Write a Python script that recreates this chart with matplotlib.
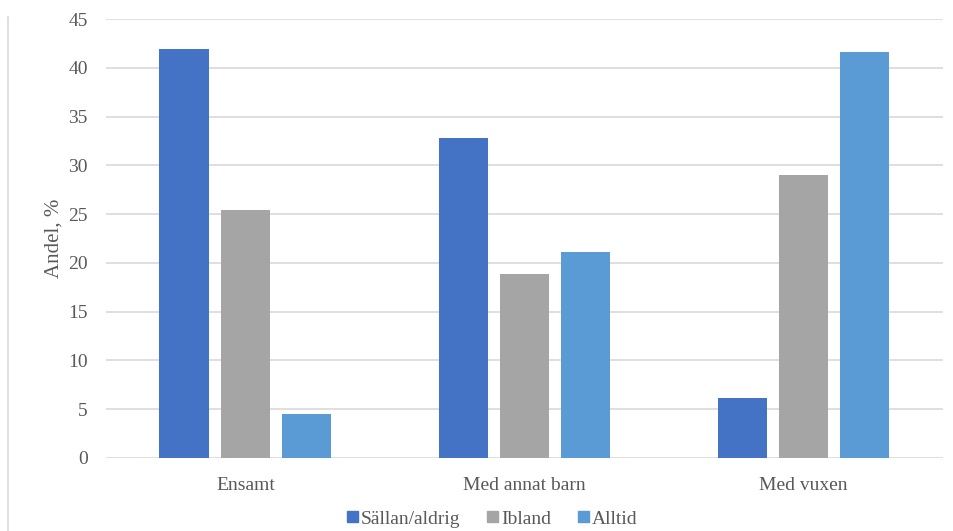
import numpy as np
import matplotlib.pyplot as plt
from matplotlib.patches import Patch
from matplotlib.lines import Line2D

categories = ['Ensamt', 'Med annat barn', 'Med vuxen']
series_names = ['Sällan/aldrig', 'Ibland', 'Alltid']
sallan = [41.9, 32.8, 6.2]
ibland = [25.4, 18.9, 29.0]
alltid = [4.5, 21.1, 41.6]
colors = ['#4472C4', '#A5A5A5', '#5B9BD5']

plt.rcParams['font.family'] = ['Liberation Serif', 'DejaVu Serif']
txt = '#595959'

fig = plt.figure(figsize=(9.54, 5.31), dpi=100)
ax = fig.add_axes([0.111, 0.1375, 0.8775, 0.8265])

x = np.arange(len(categories))
w = 0.176
step = 0.22
for i, vals in enumerate([sallan, ibland, alltid]):
    ax.bar(x + (i - 1) * step, vals, width=w, color=colors[i], zorder=3)

ax.set_xlim(-0.5, 2.5)
ax.set_ylim(0, 45)
ax.set_yticks(np.arange(0, 46, 5))
ax.set_xticks(x)
ax.set_xticklabels(categories)
ax.tick_params(axis='both', length=0, labelsize=14, colors=txt)
ax.tick_params(axis='y', pad=13)
ax.tick_params(axis='x', pad=14)
ax.grid(axis='y', color='#D9D9D9', linewidth=1.2, zorder=0)
for s in ax.spines.values():
    s.set_visible(False)

ax.set_ylabel('Andel, %', fontsize=15, color=txt)
ax.yaxis.set_label_coords(-0.051, 0.5)

# chart frame edge on the left
fig.add_artist(Line2D([8 / 954, 8 / 954], [0, 1 - 17 / 531], color='#D9D9D9', lw=1.2))

handles = [Patch(color=c) for c in colors]
fig.legend(handles, series_names, loc='center', bbox_to_anchor=(0.516, 1 - 519 / 531),
           ncol=3, frameon=False, prop={'family': ['Liberation Serif'], 'size': 14},
           labelcolor=txt, handlelength=0.55, handleheight=0.55,
           handletextpad=0.15, columnspacing=1.4)

fig.savefig('out.png', dpi=100)
